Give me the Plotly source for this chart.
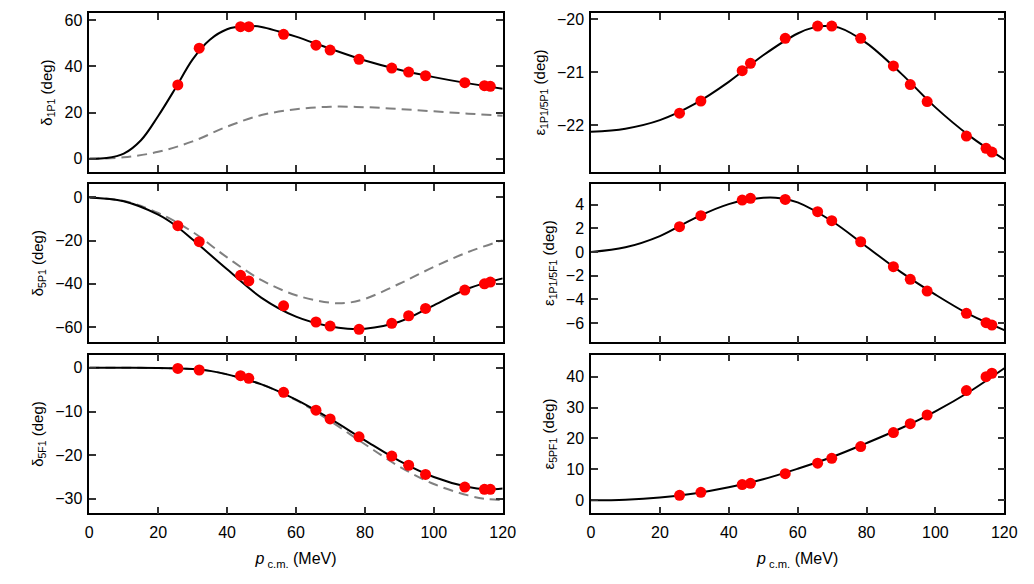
import plotly.graph_objects as go

# measured points (shared momenta)
p_data = [25.7, 31.9, 43.9, 46.3, 56.4, 65.8, 69.9, 78.3, 87.8, 92.7, 97.6, 109.0, 114.7, 116.4]

d1P1_data = [31.9, 47.8, 57.1, 57.1, 53.8, 49.1, 47.0, 43.0, 39.2, 37.5, 35.9, 32.9, 31.6, 31.3]
d5P1_data = [-13.1, -20.5, -36.1, -38.7, -50.2, -57.7, -59.6, -61.1, -58.3, -54.8, -51.4, -42.9, -40.0, -39.2]
d5F1_data = [-0.15, -0.5, -1.8, -2.4, -5.6, -9.7, -11.7, -15.8, -20.2, -22.3, -24.4, -27.3, -27.8, -27.8]
e1P5P_data = [-21.77, -21.54, -20.97, -20.83, -20.36, -20.13, -20.13, -20.36, -20.88, -21.23, -21.55, -22.20, -22.43, -22.50]
e1P5F_data = [2.14, 3.07, 4.39, 4.54, 4.45, 3.41, 2.65, 0.87, -1.24, -2.31, -3.30, -5.18, -5.97, -6.17]
e5PF_data = [1.6, 2.6, 5.1, 5.5, 8.6, 12.0, 13.6, 17.4, 21.9, 24.8, 27.6, 35.5, 40.0, 41.1]

# fitted curves
p_c1 = [0, 5, 10, 15, 20, 25, 30, 35, 40, 45, 50, 55, 60, 70, 80, 90, 100, 110, 120]
d1P1_fit = [0, 0.3, 2.2, 8.0, 18.5, 30.5, 43, 51.5, 56, 57.4, 57, 55, 52.8, 47.5, 42.5, 38.5, 35.3, 32.6, 30.3]
p_c2 = [0, 10, 20, 30, 40, 50, 60, 70, 80, 90, 100, 110, 120]
d1P1_dash = [0, 0.6, 3, 7.5, 13.9, 18.9, 21.4, 22.5, 22.3, 21.5, 20.5, 19.5, 18.6]

p_c3 = [0, 10, 20, 25, 30, 40, 50, 60, 70, 75, 80, 90, 100, 110, 120]
d5P1_fit = [0, -1.8, -8, -13, -19.5, -33.3, -46.5, -55.2, -59.8, -60.8, -60.8, -57.6, -50, -42.2, -37.5]
p_c4 = [0, 10, 20, 30, 40, 50, 60, 70, 75, 80, 90, 100, 110, 120]
d5P1_dash = [0, -1.7, -7.2, -16, -27.8, -38.3, -45.3, -48.8, -48.8, -47, -40, -32.2, -25.3, -19.8]

p_c5 = [0, 10, 20, 30, 35, 40, 50, 60, 70, 80, 90, 100, 110, 115, 120]
d5F1_fit = [0, 0, -0.05, -0.3, -0.7, -1.5, -3.8, -7.3, -11.7, -16.6, -21.3, -25, -27.3, -27.8, -27.6]
d5F1_dash = [0, 0, -0.05, -0.3, -0.7, -1.5, -3.8, -7.4, -12.2, -17.5, -22.6, -26.6, -29.2, -30, -30.3]

p_c6 = [0, 10, 20, 30, 40, 50, 60, 65, 68, 72, 80, 90, 100, 110, 120]
e1P5P_fit = [-22.12, -22.06, -21.9, -21.6, -21.18, -20.68, -20.27, -20.15, -20.13, -20.16, -20.45, -21.02, -21.66, -22.2, -22.64]
p_c7 = [0, 10, 20, 30, 40, 50, 55, 60, 70, 80, 90, 100, 110, 120]
e1P5F_fit = [0, 0.4, 1.35, 2.85, 4.05, 4.58, 4.55, 4.2, 2.6, 0.45, -1.7, -3.6, -5.3, -6.6]
p_c8 = [0, 10, 20, 30, 40, 50, 60, 70, 80, 90, 100, 110, 120]
e5PF_fit = [0, 0.2, 0.9, 2.2, 4.2, 6.8, 10.2, 14.0, 18.5, 23.3, 28.8, 35.2, 42.7]

x_ticks = [0, 20, 40, 60, 80, 100, 120]
xlabel = "<i>p</i><sub> c.m.</sub> (MeV)"

panels = [
    # (row, col, data, fit_x, fit, dash_x, dash, yrange, ytickvals, ytitle)
    (0, 0, d1P1_data, p_c1, d1P1_fit, p_c2, d1P1_dash, [-5.6, 62.9], [0, 20, 40, 60], "δ<sub>1P1</sub> (deg)"),
    (1, 0, d5P1_data, p_c3, d5P1_fit, p_c4, d5P1_dash, [-67.1, 6.2], [-60, -40, -20, 0], "δ<sub>5P1</sub> (deg)"),
    (2, 0, d5F1_data, p_c5, d5F1_fit, p_c5, d5F1_dash, [-33.3, 3.0], [-30, -20, -10, 0], "δ<sub>5F1</sub> (deg)"),
    (0, 1, e1P5P_data, p_c6, e1P5P_fit, None, None, [-22.87, -19.89], [-22, -21, -20], "ε<sub>1P1/5P1</sub> (deg)"),
    (1, 1, e1P5F_data, p_c7, e1P5F_fit, None, None, [-7.63, 5.75], [-6, -4, -2, 0, 2, 4], "ε<sub>1P1/5F1</sub> (deg)"),
    (2, 1, e5PF_data, p_c8, e5PF_fit, None, None, [-4.2, 47.1], [0, 10, 20, 30, 40], "ε<sub>5PF1</sub> (deg)"),
]

W, H = 1034, 584
xdom = [[89.3 / W, 502.7 / W], [591 / W, 1004.3 / W]]
ydom = [[412.3 / H, 570.7 / H], [241.7 / H, 400 / H], [70.7 / H, 229.3 / H]]

fig = go.Figure()
layout = dict(
    width=W, height=H, margin=dict(l=0, r=0, t=0, b=0),
    paper_bgcolor="white", plot_bgcolor="white", showlegend=False,
    font=dict(family="Liberation Sans, Arial, sans-serif", size=16, color="black"),
)

for i, (r, c, yd, fx, fy, dx, dy, yr, ytv, ytitle) in enumerate(panels):
    n = i + 1
    xa = "x" if n == 1 else f"x{n}"
    ya = "y" if n == 1 else f"y{n}"
    if dx is not None:
        fig.add_trace(go.Scatter(x=dx, y=dy, mode="lines", line=dict(color="#808080", width=2, dash="10px,6px", shape="spline", smoothing=1.0),
                                 xaxis=xa, yaxis=ya, hoverinfo="skip"))
    fig.add_trace(go.Scatter(x=fx, y=fy, mode="lines", line=dict(color="black", width=2, shape="spline", smoothing=1.0),
                             xaxis=xa, yaxis=ya, hoverinfo="skip"))
    fig.add_trace(go.Scatter(x=p_data, y=yd, mode="markers", marker=dict(color="#ff0000", size=11, line=dict(width=0)),
                             xaxis=xa, yaxis=ya))
    axcommon = dict(showline=True, linecolor="black", linewidth=1.5, mirror="ticks", ticks="inside",
                    ticklen=7, tickwidth=1.5, tickcolor="#333", showgrid=False, zeroline=False,
                    tickfont=dict(size=16))
    xdict = dict(domain=xdom[c], range=[0, 120], tickvals=x_ticks, anchor=ya,
                 showticklabels=(r == 2), automargin=False, ticklabelstandoff=4, **axcommon)
    if r == 2:
        xdict["title"] = dict(text=xlabel, standoff=13, font=dict(size=16))
    layout["xaxis" if n == 1 else f"xaxis{n}"] = xdict
    layout["yaxis" if n == 1 else f"yaxis{n}"] = dict(
        domain=ydom[r], range=yr, tickvals=ytv, anchor=xa, ticklabelstandoff=2,
        title=dict(text=ytitle, standoff=8, font=dict(size=15)), automargin=False, **axcommon)

fig.update_layout(**layout)
fig.write_html("out.html")
